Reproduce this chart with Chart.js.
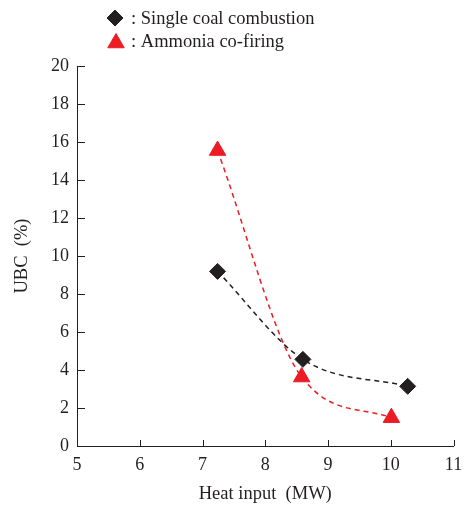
<!DOCTYPE html>
<html>
<head>
<meta charset="utf-8">
<script src="https://cdn.jsdelivr.net/npm/chart.js@4/dist/chart.umd.min.js"></script>
<style>
  html, body { margin: 0; padding: 0; background: #fff; }
  #wrap { width: 464px; height: 506px; }
</style>
</head>
<body>
<div id="wrap"><canvas id="c" width="464" height="506"></canvas></div>
<script>
// Heat input (MW) and unburned carbon (UBC, %) for each firing mode
const coalHeat = [7.24, 8.60, 10.27];
const coalUBC = [9.19, 4.56, 3.14];
const nh3Heat = [7.24, 8.58, 10.01];
const nh3UBC = [15.55, 3.63, 1.49];

const seriesNames = [': Single coal combustion', ': Ammonia co-firing'];
const xTitle = 'Heat input  (MW)';
const yTitle = 'UBC  (%)';

const INK = '#231f20';
const RED = '#ed1c24';
const SERIF = '"Liberation Serif", "Times New Roman", serif';

const toPoints = (xs, ys) => xs.map((x, i) => ({ x, y: ys[i] }));

// Inward tick marks on the left and bottom axes
const innerTicks = {
  id: 'innerTicks',
  afterDraw(chart) {
    const { ctx, scales: { x, y } } = chart;
    ctx.save();
    ctx.strokeStyle = INK;
    ctx.lineWidth = 1;
    ctx.beginPath();
    x.ticks.forEach(t => {
      const px = Math.round(x.getPixelForValue(t.value)) + 0.5;
      ctx.moveTo(px, x.top);
      ctx.lineTo(px, x.top - 6);
    });
    y.ticks.forEach(t => {
      const py = Math.round(y.getPixelForValue(t.value)) + 0.5;
      ctx.moveTo(y.right, py);
      ctx.lineTo(y.right + 8, py);
    });
    ctx.stroke();
    ctx.restore();
  }
};

// Marker legend stacked at the top left
const markerLegend = {
  id: 'markerLegend',
  afterDraw(chart) {
    const { ctx } = chart;
    const rows = [{ mx: 115, my: 18, ty: 24 }, { mx: 116, my: 43, ty: 47 }];
    ctx.save();
    chart.data.datasets.forEach((ds, i) => {
      const r = rows[i];
      ctx.fillStyle = ds.pointBackgroundColor;
      ctx.strokeStyle = ds.pointBorderColor;
      Chart.helpers.drawPoint(ctx, {
        pointStyle: ds.pointStyle,
        radius: ds.pointRadius,
        rotation: 0,
        borderWidth: ds.pointBorderWidth
      }, r.mx, r.my);
      ctx.fillStyle = INK;
      ctx.font = '18.5px ' + SERIF;
      ctx.textBaseline = 'alphabetic';
      ctx.textAlign = 'left';
      ctx.fillText(seriesNames[i], 131, r.ty);
    });
    ctx.restore();
  }
};

new Chart(document.getElementById('c'), {
  type: 'scatter',
  data: {
    datasets: [
      {
        label: seriesNames[0],
        data: toPoints(coalHeat, coalUBC),
        showLine: true,
        cubicInterpolationMode: 'monotone',
        borderColor: INK,
        borderWidth: 1.5,
        borderDash: [5, 4],
        pointStyle: 'rectRot',
        pointRadius: 8,
        pointBackgroundColor: INK,
        pointBorderColor: INK,
        pointBorderWidth: 1
      },
      {
        label: seriesNames[1],
        data: toPoints(nh3Heat, nh3UBC),
        showLine: true,
        cubicInterpolationMode: 'monotone',
        borderColor: RED,
        borderWidth: 1.5,
        borderDash: [5, 4],
        pointStyle: 'triangle',
        pointRadius: 9.5,
        pointBackgroundColor: RED,
        pointBorderColor: RED,
        pointBorderWidth: 1
      }
    ]
  },
  options: {
    responsive: false,
    animation: false,
    devicePixelRatio: 1,
    layout: { padding: { top: 66, right: 9, left: 0, bottom: 0 } },
    plugins: {
      legend: { display: false },
      tooltip: { enabled: false }
    },
    scales: {
      x: {
        type: 'linear',
        min: 5,
        max: 11,
        ticks: { stepSize: 1, color: INK, font: { family: SERIF, size: 18 }, padding: 8 },
        grid: { display: true, drawOnChartArea: false, drawTicks: false },
        border: { display: true, color: INK, width: 1 },
        title: { display: true, text: xTitle, color: INK, font: { family: SERIF, size: 18.5 }, padding: { top: 0, bottom: 1 } },
        afterFit(scale) {
          scale.height = 60;
          scale.paddingRight = 0;
          scale.paddingLeft = 0;
        }
      },
      y: {
        type: 'linear',
        min: 0,
        max: 20,
        ticks: { stepSize: 2, color: INK, font: { family: SERIF, size: 18 }, padding: 8 },
        grid: { display: true, drawOnChartArea: false, drawTicks: false },
        border: { display: true, color: INK, width: 1 },
        title: { display: true, text: yTitle, color: INK, font: { family: SERIF, size: 18.5 }, padding: { top: 11, bottom: 0 } },
        afterFit(scale) {
          scale.width = 77;
          scale.paddingTop = 0;
          scale.paddingBottom = 0;
        }
      }
    }
  },
  plugins: [innerTicks, markerLegend]
});
</script>
</body>
</html>
